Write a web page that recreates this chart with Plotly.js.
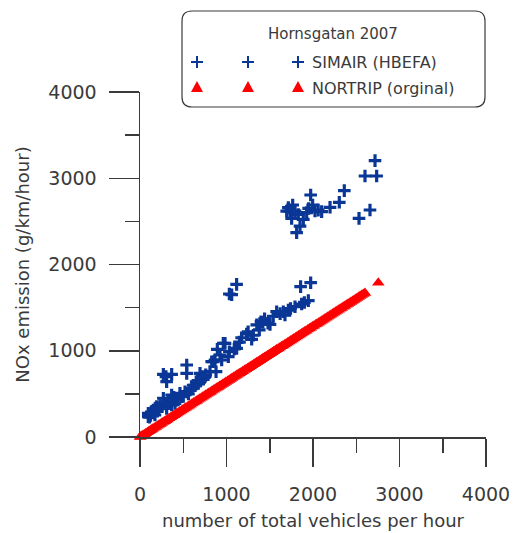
<!DOCTYPE html>
<html>
<head>
<meta charset="utf-8">
<script src="https://cdn.plot.ly/plotly-3.0.1.min.js"></script>
<style>
  html, body { margin: 0; padding: 0; background: #ffffff; }
  #chart { width: 515px; height: 533px; }
</style>
</head>
<body>
<div id="chart"></div>
<script>
// Hourly NOx emission versus traffic volume, Hornsgatan 2007

// SIMAIR (HBEFA) emission estimates
const simairVehicles = [
  2717, 2601, 2736, 2659, 2532, 2362, 2304, 2197, 2100, 2023,
  1973, 1996, 1927, 1888, 1850, 1811, 1765, 1734, 1753, 1792,
  1696, 1715, 1830, 1950, 2060,
  1033, 1060, 1117, 1857, 1973,
  1946, 1869, 1792, 1715, 1657, 1580, 1676, 1620, 1740, 1900,
  1503, 1480, 1399, 1379, 1291, 1310, 1233, 1175, 1117, 1033,
  983, 1021, 963, 894, 944, 925, 848, 867, 879, 809,
  829, 1150, 1250, 1350, 1420, 1540,
  540, 540, 270, 366, 308, 694, 732, 674, 636, 578,
  521, 462, 424, 366, 328, 270, 231, 193, 154, 96,
  96, 173, 250, 308, 366, 405, 482, 300, 720, 700,
  600, 130, 200, 120, 350, 440, 560, 650, 760,
  110, 145, 215, 285, 390, 500, 615, 745, 1090, 1440
];
const simairNox = [
  3204, 3026, 3026, 2632, 2535, 2856, 2721, 2663, 2613, 2620,
  2806, 2690, 2601, 2524, 2446, 2369, 2690, 2620, 2535, 2620,
  2620, 2660, 2580, 2650, 2630,
  1658, 1650, 1770, 1743, 1789,
  1581, 1542, 1511, 1472, 1453, 1453, 1414, 1430, 1490, 1560,
  1306, 1318, 1337, 1241, 1133, 1180, 1194, 1151, 1028, 989,
  1086, 931, 1086, 1017, 893, 951, 873, 893, 757, 758,
  873, 1100, 1220, 1300, 1330, 1400,
  835, 738, 727, 727, 641, 738, 669, 622, 595, 545,
  525, 506, 449, 487, 410, 449, 390, 352, 313, 274,
  236, 255, 352, 332, 371, 390, 468, 700, 700, 650,
  560, 290, 300, 250, 420, 430, 500, 640, 720,
  230, 280, 330, 390, 460, 470, 600, 690, 1020, 1370
];

// NORTRIP (orginal) emission estimates
const nortripVehicles = [
  0, 18, 52, 85, 121, 148, 183, 220, 251, 287,
  318, 356, 392, 425, 461, 497, 530, 566, 603, 641,
  672, 709, 744, 781, 815, 852, 889, 920, 958, 993,
  1031, 1064, 1102, 1137, 1170, 1208, 1243, 1279, 1315, 1350,
  1388, 1421, 1458, 1494, 1530, 1565, 1600, 1637, 1672, 1708,
  1744, 1779, 1815, 1851, 1886, 1921, 1958, 1993, 2030, 2065,
  2101, 2136, 2172, 2208, 2243, 2279, 2315, 2350, 2386, 2421,
  2457, 2493, 2528, 2563, 2601, 2755,
  9, 35, 68, 103, 134, 165, 201, 235, 269, 302,
  337, 374, 408, 443, 479, 513, 548, 584, 622, 656,
  690, 726, 762, 798, 833, 870, 904, 939, 975, 1012,
  1047, 1083, 1119, 1153, 1189, 1225, 1261, 1297, 1332, 1369,
  1404, 1439, 1476, 1512, 1547, 1582, 1618, 1654, 1690, 1726,
  1761, 1797, 1833, 1868, 1903, 1940, 1975, 2011, 2047, 2083,
  2118, 2154, 2190, 2225, 2261, 2297, 2332, 2368, 2403, 2439,
  2475, 2510, 2545, 2582
];
const nortripNox = [
  0, 12, 33, 55, 78, 95, 117, 141, 161, 184,
  204, 229, 252, 273, 296, 319, 340, 363, 387, 412,
  431, 455, 478, 501, 523, 547, 571, 591, 615, 637,
  662, 683, 707, 730, 751, 776, 798, 821, 844, 867,
  891, 912, 936, 959, 982, 1005, 1027, 1051, 1073, 1097,
  1120, 1142, 1165, 1188, 1211, 1233, 1257, 1280, 1303, 1326,
  1349, 1371, 1394, 1418, 1440, 1463, 1486, 1509, 1532, 1554,
  1577, 1601, 1623, 1645, 1670, 1789,
  6, 22, 44, 66, 86, 106, 129, 151, 173, 194,
  216, 240, 262, 284, 308, 329, 352, 375, 399, 421,
  443, 466, 489, 512, 535, 559, 580, 603, 626, 650,
  672, 695, 718, 740, 763, 786, 810, 833, 855, 879,
  901, 924, 948, 971, 993, 1016, 1039, 1062, 1085, 1108,
  1131, 1154, 1177, 1199, 1222, 1245, 1268, 1291, 1314, 1337,
  1360, 1383, 1406, 1428, 1452, 1475, 1497, 1520, 1543, 1566,
  1589, 1611, 1634, 1658
];

const seriesNames = ['SIMAIR (HBEFA)', 'NORTRIP (orginal)'];
const legendHeading = 'Hornsgatan 2007';
const xTicks = [0, 1000, 2000, 3000, 4000];
const yTicks = [0, 1000, 2000, 3000, 4000];
const xTitle = 'number of total vehicles per hour';
const yTitle = 'NOx emission (g/km/hour)';

const BLUE = '#0a3796';
const RED = '#ff0000';
const INK = '#3a3a3a';
const FONT = 'DejaVu Sans, Verdana, sans-serif';

const W = 515, H = 533;
const M = { l: 140, r: 29, t: 92, b: 96 };
// pixel -> paper coordinates for the hand-built legend box
const px = x => (x - M.l) / (W - M.l - M.r);
const py = y => (H - M.b - y) / (H - M.t - M.b);

const traces = [
  {
    x: simairVehicles, y: simairNox, type: 'scatter', mode: 'markers',
    name: seriesNames[0],
    marker: { symbol: 'cross-thin', size: 9, line: { color: BLUE, width: 3.2 } },
    cliponaxis: false
  },
  {
    x: nortripVehicles, y: nortripNox, type: 'scatter', mode: 'markers',
    name: seriesNames[1],
    marker: { symbol: 'triangle-up', size: 11, color: RED, line: { width: 0 } },
    cliponaxis: false
  }
];

// legend frame with rounded corners
function roundedBox(x0, y0, x1, y1, r) {
  const P = (x, y) => px(x) + ',' + py(y);
  return 'M' + P(x0 + r, y0) + ' L' + P(x1 - r, y0) + ' Q' + P(x1, y0) + ' ' + P(x1, y0 + r) +
    ' L' + P(x1, y1 - r) + ' Q' + P(x1, y1) + ' ' + P(x1 - r, y1) +
    ' L' + P(x0 + r, y1) + ' Q' + P(x0, y1) + ' ' + P(x0, y1 - r) +
    ' L' + P(x0, y0 + r) + ' Q' + P(x0, y0) + ' ' + P(x0 + r, y0) + ' Z';
}

const shapes = [{
  type: 'path', xref: 'paper', yref: 'paper',
  path: roundedBox(182, 11, 485, 107, 10),
  line: { color: INK, width: 1.2 }, fillcolor: 'rgba(0,0,0,0)'
}];

const keyX = [197, 248, 298];
const rowY = [62, 87];
keyX.forEach(cx => {
  const cy = rowY[0], a = 6;
  shapes.push({ type: 'line', xref: 'paper', yref: 'paper',
    x0: px(cx - a), x1: px(cx + a), y0: py(cy), y1: py(cy), line: { color: BLUE, width: 2 } });
  shapes.push({ type: 'line', xref: 'paper', yref: 'paper',
    x0: px(cx), x1: px(cx), y0: py(cy - a), y1: py(cy + a), line: { color: BLUE, width: 2 } });
  const ty = rowY[1];
  shapes.push({ type: 'path', xref: 'paper', yref: 'paper',
    path: 'M' + px(cx - 6) + ',' + py(ty + 5) + ' L' + px(cx + 6) + ',' + py(ty + 5) +
          ' L' + px(cx) + ',' + py(ty - 6) + ' Z',
    fillcolor: RED, line: { width: 0 } });
});

const annotations = [
  { text: legendHeading, xref: 'paper', yref: 'paper', x: px(333), y: py(34),
    xanchor: 'center', yanchor: 'middle', showarrow: false,
    font: { family: FONT, size: 15, color: INK } },
  { text: seriesNames[0], xref: 'paper', yref: 'paper', x: px(310), y: py(62),
    xanchor: 'left', yanchor: 'middle', showarrow: false,
    font: { family: FONT, size: 16, color: INK } },
  { text: seriesNames[1], xref: 'paper', yref: 'paper', x: px(310), y: py(88),
    xanchor: 'left', yanchor: 'middle', showarrow: false,
    font: { family: FONT, size: 16, color: INK } }
];

const axisCommon = {
  range: [0, 4000], autorange: false, fixedrange: true,
  showgrid: false, zeroline: false,
  showline: true, linecolor: INK, linewidth: 1.5,
  ticks: 'outside', tickwidth: 1.5, tickcolor: INK,
  tickfont: { family: FONT, size: 19, color: INK },
  minor: { ticks: 'outside', dtick: 500, tick0: 0, ticklen: 14, tickwidth: 1.5, tickcolor: INK, showgrid: false }
};

const layout = {
  width: W, height: H,
  margin: M,
  paper_bgcolor: '#ffffff', plot_bgcolor: '#ffffff',
  showlegend: false,
  font: { family: FONT, color: INK },
  xaxis: Object.assign({}, axisCommon, {
    tickmode: 'array', tickvals: xTicks, ticktext: xTicks.map(String),
    ticklen: 28, ticklabelstandoff: 12,
    title: { text: xTitle, font: { family: FONT, size: 18, color: INK }, standoff: 10 }
  }),
  yaxis: Object.assign({}, axisCommon, {
    tickmode: 'array', tickvals: yTicks, ticktext: yTicks.map(String),
    ticklen: 30, ticklabelstandoff: 8,
    title: { text: yTitle, font: { family: FONT, size: 18, color: INK }, standoff: 14 }
  }),
  shapes: shapes,
  annotations: annotations
};

Plotly.newPlot('chart', traces, layout, { staticPlot: true, displayModeBar: false });
</script>
</body>
</html>
